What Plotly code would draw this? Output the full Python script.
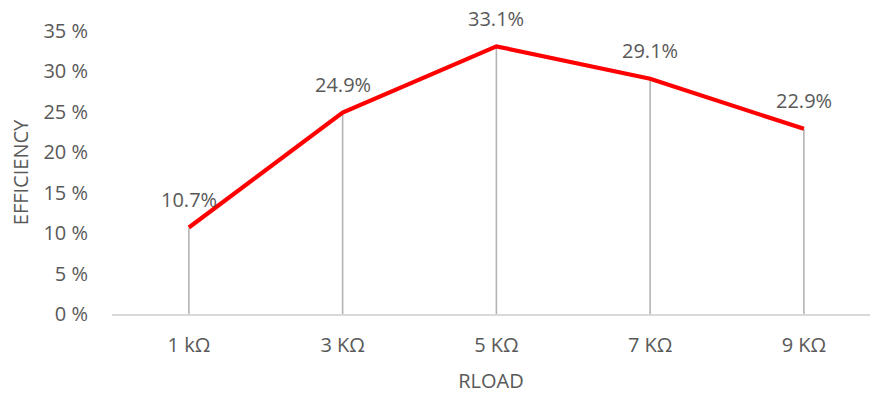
import plotly.graph_objects as go

# Load resistance categories and measured efficiency (%)
rload = ["1 kΩ", "3 KΩ", "5 KΩ", "7 KΩ", "9 KΩ"]
efficiency = [10.7, 24.9, 33.1, 29.1, 22.9]
y_ticks = [0, 5, 10, 15, 20, 25, 30, 35]

text_color = "#595959"
font_family = "Open Sans, Liberation Sans, sans-serif"
font_size = 20

fig = go.Figure()

# Grey drop lines from each point down to the axis
fig.add_trace(go.Scatter(
    x=rload, y=efficiency, mode="markers",
    marker=dict(size=0.1, color="rgba(0,0,0,0)"),
    error_y=dict(type="data", symmetric=False, array=[0] * len(efficiency),
                 arrayminus=efficiency, color="#b3b3b3", thickness=1.6, width=0),
    hoverinfo="skip", showlegend=False,
))

# Efficiency curve
fig.add_trace(go.Scatter(
    x=rload, y=efficiency, mode="lines",
    line=dict(color="#ff0000", width=4.2),
    hoverinfo="x+y", showlegend=False,
))

# Value labels above each point
for cat, val in zip(rload, efficiency):
    fig.add_annotation(
        x=cat, y=val, text=f"{val:.1f}%", showarrow=False,
        yshift=28, font=dict(size=font_size, color=text_color, family=font_family),
    )

fig.update_layout(
    width=870, height=394,
    margin=dict(l=112, r=0, t=31, b=80),
    plot_bgcolor="white", paper_bgcolor="white",
    font=dict(family=font_family, size=font_size, color=text_color),
    xaxis=dict(
        range=[-0.5, 4.43], showgrid=False, zeroline=False,
        showline=True, linecolor="#d9d9d9", linewidth=1.5,
        ticks="outside", ticklen=12, tickcolor="rgba(0,0,0,0)",
        title=dict(text="RLOAD", font=dict(size=font_size, color=text_color), standoff=22),
        tickfont=dict(size=font_size, color=text_color),
    ),
    yaxis=dict(
        range=[0, 35], showgrid=False, zeroline=False, showline=False,
        tickvals=y_ticks, ticktext=[f"{t} %" for t in y_ticks],
        tickfont=dict(size=font_size, color=text_color),
        ticks="outside", ticklen=19, tickcolor="rgba(0,0,0,0)",
        title=dict(text="EFFICIENCY", font=dict(size=font_size, color=text_color), standoff=9),
    ),
)

fig.write_html("out.html")
